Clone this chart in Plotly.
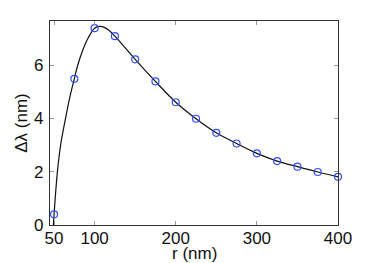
import plotly.graph_objects as go

# measured points
r_pts = [50, 75, 100, 125, 150, 175, 200, 225, 250, 275, 300, 325, 350, 375, 400]
dl_pts = [0.40, 5.49, 7.39, 7.09, 6.22, 5.39, 4.61, 3.99, 3.46, 3.06, 2.69, 2.40, 2.19, 1.99, 1.81]

# fitted curve
r_curve = [49.2, 50, 54.3, 58.5, 63.3, 69, 75, 78.8, 85.8, 92, 100, 106, 112, 118, 125, 150, 175,
           200, 225, 250, 275, 300, 325, 350, 375, 400]
dl_curve = [0.0, 0.40, 2.05, 3.08, 3.87, 4.74, 5.49, 5.96, 6.6, 7.02, 7.39, 7.46, 7.42, 7.30, 7.09, 6.22, 5.39,
            4.61, 3.99, 3.46, 3.06, 2.69, 2.40, 2.19, 1.99, 1.81]

x_ticks = [50, 100, 200, 300, 400]
y_ticks = [0, 2, 4, 6]

FONT = "Liberation Sans, Arial, sans-serif"

fig = go.Figure()
fig.add_trace(go.Scatter(x=r_curve, y=dl_curve, mode="lines",
                         line=dict(color="#111111", width=1.2, shape="spline", smoothing=1.0),
                         showlegend=False, hoverinfo="skip"))
fig.add_trace(go.Scatter(x=r_pts, y=dl_pts, mode="markers",
                         marker=dict(symbol="circle-open", size=7, color="#3050ff",
                                     line=dict(width=1.2, color="#3050ff")),
                         showlegend=False, cliponaxis=False))

axis_common = dict(showline=True, linecolor="#333333", linewidth=1.2, mirror="allticks",
                   ticks="inside", ticklen=4, tickcolor="#999999", showgrid=False,
                   zeroline=False, tickfont=dict(family=FONT, size=17, color="#111111"))

# the page body adds an 8px offset on the left and top
fig.update_layout(
    width=366, height=255,
    margin=dict(l=40, r=36, t=12, b=38),
    paper_bgcolor="white", plot_bgcolor="white",
    xaxis=dict(range=[45, 400], tickvals=x_ticks, ticktext=[str(v) for v in x_ticks],
               ticklabelstandoff=-3,
               **axis_common),
    yaxis=dict(range=[0, 7.66], tickvals=y_ticks, ticktext=[str(v) for v in y_ticks],
               ticklabelstandoff=2,
               title=dict(text="Δλ (nm)", standoff=2,
                          font=dict(family=FONT, size=17, color="#111111")),
               **axis_common),
    annotations=[dict(text="r (nm)", xref="paper", yref="paper", x=0.5, y=0,
                      xanchor="center", yanchor="middle", yshift=-28, showarrow=False,
                      font=dict(family=FONT, size=17, color="#111111"))],
)

fig.write_html("out.html")
